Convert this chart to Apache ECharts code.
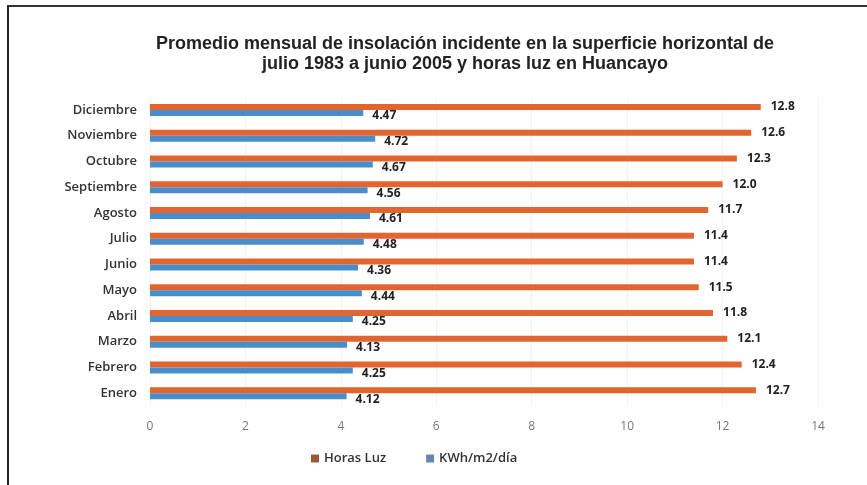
<!DOCTYPE html>
<html>
<head>
<meta charset="utf-8">
<script src="https://cdn.jsdelivr.net/npm/echarts@6/dist/echarts.min.js"></script>
<style>
  html, body { margin: 0; padding: 0; background: #fff; }
  #main { width: 867px; height: 485px; }
</style>
</head>
<body>
<div id="main"></div>
<script>
// meses (de abajo hacia arriba)
var meses = ['Enero', 'Febrero', 'Marzo', 'Abril', 'Mayo', 'Junio',
  'Julio', 'Agosto', 'Septiembre', 'Octubre', 'Noviembre', 'Diciembre'];
var horasLuz = [12.7, 12.4, 12.1, 11.8, 11.5, 11.4, 11.4, 11.7, 12.0, 12.3, 12.6, 12.8];
var kwh = [4.12, 4.25, 4.13, 4.25, 4.44, 4.36, 4.48, 4.61, 4.56, 4.67, 4.72, 4.47];
var ticksX = [0, 14, 2];

var myChart = echarts.init(document.getElementById('main'));
myChart.setOption({
  animation: false,
  title: {
    text: 'Promedio mensual de insolación incidente en la superficie horizontal de\njulio 1983 a junio 2005 y horas luz en Huancayo',
    left: 460,
    top: 29,
    textAlign: 'center',
    textStyle: {
      fontFamily: 'Liberation Sans',
      fontSize: 18,
      fontWeight: 'bold',
      color: '#222',
      lineHeight: 20,
      align: 'center'
    }
  },
  legend: {
    bottom: 15,
    left: 306,
    itemWidth: 8,
    itemHeight: 8,
    itemGap: 40,
    icon: 'rect',
    textStyle: { fontFamily: 'Open Sans', fontSize: 13, fontWeight: 600, color: '#333' },
    data: [
      { name: 'Horas Luz', itemStyle: { color: '#9A5A3A' } },
      { name: 'KWh/m2/día', itemStyle: { color: '#6587A8' } }
    ]
  },
  grid: { left: 150, right: 49, top: 97, bottom: 79 },
  xAxis: {
    type: 'value',
    min: ticksX[0],
    max: ticksX[1],
    interval: ticksX[2],
    axisLine: { show: false },
    axisTick: { show: false },
    splitLine: { lineStyle: { color: '#f3f3f3' } },
    axisLabel: { margin: 15, color: '#777', fontFamily: 'Open Sans', fontSize: 12 }
  },
  yAxis: {
    type: 'category',
    data: meses,
    axisLine: { show: false },
    axisTick: { show: false },
    axisLabel: { margin: 13, color: '#333', fontFamily: 'Open Sans', fontSize: 13, fontWeight: 600 }
  },
  series: [
    {
      name: 'Horas Luz',
      type: 'bar',
      data: horasLuz,
      barWidth: 6,
      barGap: '0%',
      itemStyle: { color: '#E2652F' },
      label: {
        show: true, position: 'right', distance: 10,
        fontFamily: 'Open Sans', fontSize: 12, fontWeight: 'bold', color: '#222',
        formatter: function (p) { return p.value.toFixed(1); }
      }
    },
    {
      name: 'KWh/m2/día',
      type: 'bar',
      data: kwh,
      barWidth: 6,
      barGap: '0%',
      itemStyle: { color: '#4A8DCB' },
      label: {
        show: true, position: 'right', distance: 9, offset: [0, 3],
        fontFamily: 'Open Sans', fontSize: 12, fontWeight: 'bold', color: '#222',
        formatter: function (p) { return p.value.toFixed(2); }
      }
    }
  ],
  graphic: [
    { type: 'line', shape: { x1: 7, y1: 6, x2: 867, y2: 6 }, style: { stroke: '#333', lineWidth: 2 } },
    { type: 'line', shape: { x1: 8, y1: 6, x2: 8, y2: 485 }, style: { stroke: '#222', lineWidth: 2 } }
  ]
});
</script>
</body>
</html>
